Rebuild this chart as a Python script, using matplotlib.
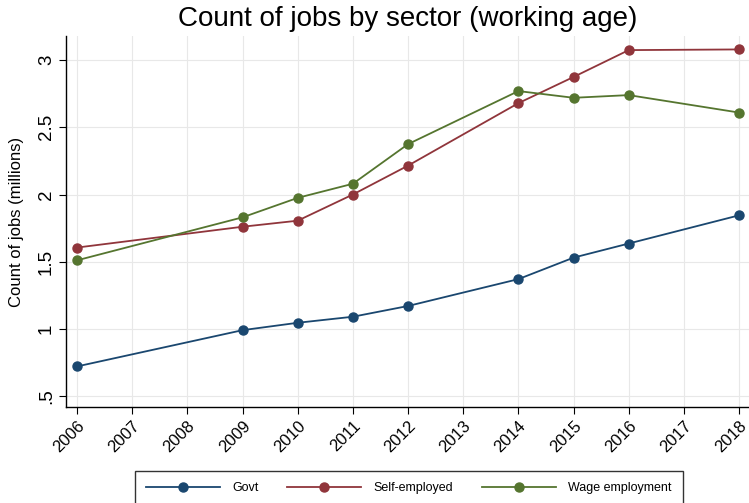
import matplotlib
matplotlib.use("Agg")
import matplotlib.pyplot as plt

years = [2006, 2009, 2010, 2011, 2012, 2014, 2015, 2016, 2018]
govt = [0.72, 0.99, 1.045, 1.09, 1.17, 1.37, 1.53, 1.635, 1.845]
self_emp = [1.605, 1.76, 1.805, 2.0, 2.215, 2.68, 2.875, 3.075, 3.08]
wage = [1.51, 1.83, 1.975, 2.08, 2.375, 2.77, 2.72, 2.74, 2.61]
xticks = list(range(2006, 2019))
yticks = [0.5, 1, 1.5, 2, 2.5, 3]
ytick_labels = [".5", "1", "1.5", "2", "2.5", "3"]

plt.rcParams['font.family'] = ['Liberation Sans', 'DejaVu Sans']

fig = plt.figure(figsize=(7.49, 5.03), dpi=100)
ax = fig.add_axes([66/749, 1-407/503, 1-66/749, (407-36)/503])

colors = {"Govt": "#1a476f", "Self-employed": "#90353b", "Wage employment": "#55752f"}
for name, vals in [("Govt", govt), ("Self-employed", self_emp), ("Wage employment", wage)]:
    ax.plot(years, vals, color=colors[name], lw=1.3, marker='o', ms=6.5, label=name)

ax.set_xlim(2005.8, 2018.18)
ax.set_ylim(0.418, 3.18)
ax.set_xticks(xticks)
ax.set_xticklabels([str(x) for x in xticks], rotation=45, ha='right', rotation_mode='anchor', fontsize=12)
ax.set_yticks(yticks)
ax.set_yticklabels(ytick_labels, rotation=90, va='center', fontsize=13.5)
ax.grid(True, color='#e8e8e8', lw=0.8)
ax.set_axisbelow(True)
for s in ['top', 'right']:
    ax.spines[s].set_visible(False)
for s in ['left', 'bottom']:
    ax.spines[s].set_color('black')
    ax.spines[s].set_linewidth(1.0)
ax.tick_params(direction='out', length=5, width=0.8, colors='black')
ax.tick_params(axis='x', pad=3)
ax.tick_params(axis='y', pad=3)
ax.set_ylabel("Count of jobs (millions)", fontsize=12, labelpad=10)
fig.text(0.544, 0.988, "Count of jobs by sector (working age)", fontsize=20, ha='center', va='top')

leg = fig.legend(loc='center', bbox_to_anchor=(0.546, 0.03), ncol=3, fontsize=9,
                 handlelength=5.9, handletextpad=1.0, columnspacing=2.3,
                 frameon=True, fancybox=False, edgecolor='black', borderpad=0.9)
leg.get_frame().set_linewidth(1.0)

fig.savefig("out.png", dpi=100)
